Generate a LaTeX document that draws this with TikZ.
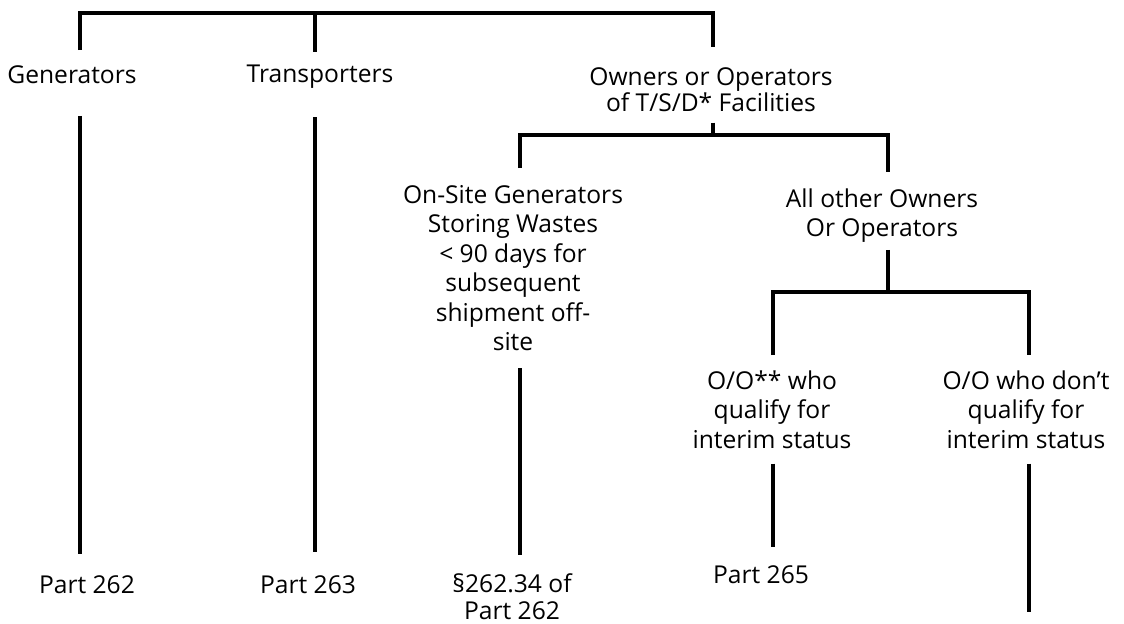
\documentclass[tikz,border=0pt]{standalone}
\usepackage{fontspec}
\setmainfont{Open Sans}
\begin{document}
\begin{tikzpicture}[x=0.5pt,y=-0.5pt,
  lbl/.style={anchor=north,inner sep=0pt,align=center,font=\fontsize{12.3pt}{14.75pt}\selectfont},
  tight/.style={font=\fontsize{12.3pt}{9.25pt}\selectfont},
  close/.style={font=\fontsize{12.3pt}{13.5pt}\selectfont},
  conn/.style={draw=black,line width=1.8pt}]
\useasboundingbox (0,0) rectangle (1124,623);
\fill[white] (0,0) rectangle (1124,623);
% nodes
\node[lbl] (gen) at (72,65) {Generators};
\node[lbl] (tra) at (320,65) {Transporters};
\node[lbl,tight] (own) at (711,67) {Owners or Operators\\of T/S/D* Facilities};
\node[lbl] (ons) at (513,185) {On-Site Generators\\Storing Wastes\\< 90 days for\\subsequent\\shipment off-\\site};
\node[lbl] (aoo) at (882,188) {All other Owners\\Or Operators};
\node[lbl] (q1) at (772,370) {O/O** who\\qualify for\\interim status};
\node[lbl] (q2) at (1026,370) {O/O who don’t\\qualify for\\interim status};
\node[lbl] (p262) at (87,575) {Part 262};
\node[lbl] (p263) at (308,575) {Part 263};
\node[lbl,close] (ps) at (512,573) {§262.34 of\\Part 262};
\node[lbl] (p265) at (761,565) {Part 265};
% junctions
\coordinate (tl) at (80,13);
\coordinate (tm) at (315,13);
\coordinate (tr) at (713,13);
\coordinate (b2l) at (520,135);
\coordinate (b2r) at (888,135);
\coordinate (b3l) at (773,292);
\coordinate (b3r) at (1029,292);
\coordinate (q2end) at (1029,612);
% connectors
\draw[conn,shorten <=7.5pt,shorten >=10pt] (tl |- gen.north) -- (tl) -- (tr) -- (tr |- own.north);
\draw[conn,shorten >=6.5pt] (tm) -- (tm |- tra.north);
\draw[conn,shorten <=16pt,shorten >=10.5pt] (tl |- gen.south) -- (tl |- p262.north);
\draw[conn,shorten <=14pt,shorten >=11.5pt] (tm |- tra.south) -- (tm |- p263.north);
\draw[conn,shorten <=5pt] (tr |- own.south) -- (tr |- b2l);
\draw[conn,shorten <=8.5pt,shorten >=8pt] (b2l |- ons.north) -- (b2l) -- (b2r) -- (b2r |- aoo.north);
\draw[conn,shorten <=8.25pt,shorten >=9pt] (b2l |- ons.south) -- (b2l |- ps.north);
\draw[conn,shorten <=3.5pt] (b2r |- aoo.south) -- (b2r |- b3l);
\draw[conn,shorten <=7.5pt,shorten >=7.5pt] (b3l |- q1.north) -- (b3l) -- (b3r) -- (b3r |- q2.north);
\draw[conn,shorten <=7.5pt,shorten >=9pt] (b3l |- q1.south) -- (b3l |- p265.north);
\draw[conn,shorten <=7.5pt] (b3r |- q2.south) -- (q2end);
\end{tikzpicture}
\end{document}
